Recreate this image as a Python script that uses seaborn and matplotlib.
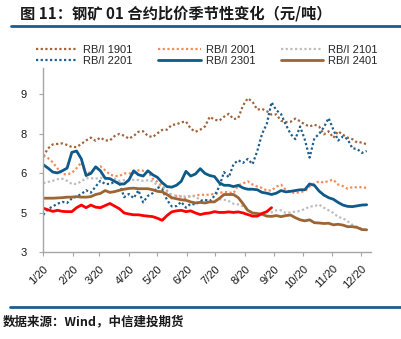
import numpy as np
import pandas as pd
import matplotlib
matplotlib.use("Agg")
import matplotlib.pyplot as plt
from matplotlib.lines import Line2D
import seaborn as sns

# ---------------- data (sampled every 5 days from 1/20) ----------------
start_date = "2023-01-20"
step_days = 5

rbi_1901 = [6.65, 6.95, 7.10, 7.12, 7.14, 7.08, 7.00, 7.00, 7.12, 7.25,
            7.36, 7.24, 7.36, 7.25, 7.25, 7.42, 7.50, 7.43, 7.32, 7.42,
            7.58, 7.60, 7.42, 7.38, 7.52, 7.65, 7.66, 7.84, 7.86, 7.94,
            7.97, 7.70, 7.58, 7.66, 7.78, 8.15, 8.04, 8.00, 8.15, 8.26,
            8.06, 8.10, 8.58, 8.85, 8.72, 8.42, 8.45, 8.36, 8.23, 8.24,
            8.00, 7.95, 7.96, 8.08, 7.98, 7.86, 7.78, 7.85, 7.78, 7.48,
            7.60, 7.35, 7.60, 7.47, 7.36, 7.30, 7.17, 7.18, 7.10]

rbi_2001 = [6.67, 6.58, 6.42, 6.18, 5.98, 5.96, 6.02, 6.20, 6.42, 5.98,
            6.05, 6.20, 6.27, 6.12, 5.96, 5.90, 5.90, 6.00, 6.00, 6.00,
            6.12, 6.10, 6.08, 5.80, 5.68, 5.52, 5.35, 5.05, 5.15, 5.12,
            5.06, 5.15, 5.15, 5.20, 5.18, 5.20, 5.22, 5.25, 5.30, 5.28,
            5.25, 5.55, 5.62, 5.70, 5.58, 5.50, 5.45, 5.35, 5.35, 5.50,
            5.57, 5.38, 5.30, 5.25, 5.30, 5.32, 5.50, 5.62, 5.70, 5.65,
            5.72, 5.76, 5.58, 5.52, 5.42, 5.48, 5.47, 5.48, 5.45]

rbi_2101 = [5.63, 5.68, 5.72, 5.78, 5.80, 5.72, 5.60, 5.60, 5.70, 5.82,
            5.82, 5.80, 5.84, 5.78, 5.80, 5.80, 5.72, 5.75, 5.74, 5.76,
            5.75, 5.72, 5.74, 5.70, 5.55, 5.45, 5.30, 5.20, 5.15, 5.14,
            5.12, 5.15, 5.12, 5.00, 4.95, 4.93, 4.95, 5.02, 5.00, 4.95,
            4.85, 4.82, 4.75, 4.60, 4.50, 4.45, 4.45, 4.55, 4.52, 4.60,
            4.60, 4.50, 4.52, 4.55, 4.58, 4.65, 4.74, 4.76, 4.82, 4.70,
            4.60, 4.50, 4.35, 4.30, 4.18, 4.05, 3.97, 3.90, 3.85]

rbi_2201 = [4.43, 4.65, 4.75, 4.85, 4.92, 4.88, 5.05, 5.12, 5.22, 5.36,
            5.27, 5.50, 5.72, 5.60, 5.60, 5.68, 5.65, 5.10, 5.22, 5.06,
            5.36, 4.90, 5.15, 5.25, 5.48, 5.40, 5.00, 4.75, 4.76, 4.92,
            4.70, 4.85, 4.82, 4.95, 5.00, 4.95, 5.15, 5.50, 6.05, 5.85,
            6.35, 6.50, 6.40, 6.55, 6.35, 6.85, 7.50, 7.88, 8.70, 8.40,
            8.25, 7.85, 7.50, 7.30, 7.78, 7.28, 6.60, 7.33, 7.50, 7.75,
            8.10, 7.66, 7.25, 7.40, 7.30, 6.95, 6.93, 6.78, 6.85]

rbi_2301 = [6.33, 6.20, 6.05, 6.02, 6.10, 6.20, 6.80, 6.85, 6.55, 5.92,
            6.00, 6.25, 6.10, 5.82, 5.80, 5.70, 5.60, 5.60, 5.75, 6.10,
            5.95, 5.90, 6.10, 5.95, 5.85, 5.65, 5.50, 5.48, 5.55, 5.70,
            6.08, 5.90, 5.98, 6.18, 6.00, 5.92, 5.88, 5.65, 5.55, 5.55,
            5.50, 5.55, 5.45, 5.40, 5.40, 5.38, 5.28, 5.25, 5.20, 5.25,
            5.35, 5.30, 5.32, 5.35, 5.38, 5.38, 5.60, 5.55, 5.33, 5.18,
            5.08, 5.02, 4.90, 4.80, 4.75, 4.74, 4.77, 4.80, 4.81]

rbi_2401 = [5.06, 5.06, 5.06, 5.07, 5.08, 5.10, 5.10, 5.12, 5.10, 5.10,
            5.12, 5.20, 5.24, 5.35, 5.28, 5.31, 5.36, 5.40, 5.43, 5.44,
            5.42, 5.42, 5.42, 5.38, 5.32, 5.30, 5.20, 5.08, 5.04, 5.00,
            4.98, 4.92, 4.88, 4.90, 4.88, 4.92, 4.92, 5.05, 5.20, 5.20,
            5.20, 5.08, 4.85, 4.60, 4.50, 4.48, 4.45, 4.38, 4.37, 4.40,
            4.36, 4.40, 4.42, 4.32, 4.24, 4.20, 4.24, 4.13, 4.12, 4.10,
            4.11, 4.05, 4.07, 4.04, 3.98, 3.98, 3.95, 3.87, 3.86]

rbi_2501 = [4.68, 4.62, 4.56, 4.60, 4.56, 4.55, 4.55, 4.70, 4.80, 4.70,
            4.80, 4.72, 4.70, 4.78, 4.86, 4.76, 4.66, 4.50, 4.46, 4.43,
            4.43, 4.40, 4.38, 4.36, 4.30, 4.22, 4.40, 4.54, 4.58, 4.60,
            4.55, 4.58, 4.50, 4.44, 4.48, 4.50, 4.55, 4.52, 4.52, 4.54,
            4.52, 4.54, 4.50, 4.44, 4.38, 4.38, 4.48, 4.55, 4.70]

series_names = ["RB/I 1901", "RB/I 2001", "RB/I 2101",
                "RB/I 2201", "RB/I 2301", "RB/I 2401", None]
series_values = [rbi_1901, rbi_2001, rbi_2101, rbi_2201, rbi_2301, rbi_2401, rbi_2501]

ytick_values = [3, 4.5, 6, 7.5, 9]
ytick_labels = ["3", "5", "6", "8", "9"]
xtick_labels = [f"{m}/20" for m in range(1, 13)]

title_text = "图 11：钢矿 01 合约比价季节性变化（元/吨）"
source_text = "数据来源：Wind，中信建投期货"

# ---------------- styles ----------------
colors = ["#A3643A", "#F58A5C", "#BDBDBD", "#1F5F8E", "#0E5A8A", "#9E6533", "#FF0000"]
dotted = (0, (1, 1.1))
styles = [dotted, dotted, dotted, dotted, "-", "-", "-"]
widths = [1.6, 1.6, 1.6, 1.6, 2.0, 2.0, 2.0]

sns.set_theme(style="white")
plt.rcParams["font.family"] = ["Liberation Sans", "Noto Sans CJK SC", "DejaVu Sans"]

fig = plt.figure(figsize=(4.01, 3.39), dpi=100)
ax = fig.add_axes([0.108, 0.2552, 0.925 - 0.108, 0.7994 - 0.2552])

t0 = pd.Timestamp(start_date)
for name, vals, c, ls, lw in zip(series_names, series_values, colors, styles, widths):
    dates = t0 + pd.to_timedelta(np.arange(len(vals)) * step_days, unit="D")
    sns.lineplot(x=dates, y=vals, ax=ax, color=c, linestyle=ls, linewidth=lw,
                 label=name if name else "_nolegend_", legend=False)

ax.set_ylim(3, 10)
ax.set_yticks(ytick_values)
ax.set_yticklabels(ytick_labels)

xticks = [pd.Timestamp(f"2023-{m:02d}-20") for m in range(1, 13)]
ax.set_xticks(xticks)
ax.set_xticklabels(xtick_labels, rotation=45, ha="right", va="top",
                   rotation_mode="anchor")
ax.set_xlim(pd.Timestamp("2023-01-20"), pd.Timestamp("2023-12-30 12:00"))
ax.set_xlabel("")
ax.set_ylabel("")

for s in ["top", "right"]:
    ax.spines[s].set_visible(False)
for s in ["left", "bottom"]:
    ax.spines[s].set_color("#A6A6A6")
    ax.spines[s].set_linewidth(1.0)
ax.tick_params(axis="x", which="major", direction="out", length=3, width=0.8,
               color="#A6A6A6", labelsize=8, pad=5, bottom=True)
ax.tick_params(axis="y", which="major", direction="out", length=3, width=0.8,
               color="#A6A6A6", labelsize=8, pad=9, left=True)
for lab in ax.get_xticklabels() + ax.get_yticklabels():
    lab.set_color("#1A1A1A")

# legend: row 1 = 1901, 2001, 2101 ; row 2 = 2201, 2301, 2401 (column-major fill)
handles, labels = ax.get_legend_handles_labels()
order = [0, 3, 1, 4, 2, 5]
fig.legend([handles[i] for i in order], [labels[i] for i in order], ncol=3,
           loc="upper left", bbox_to_anchor=(36 / 401, 1 - 45 / 339), frameon=False,
           fontsize=8, handlelength=3.8, handletextpad=0.45,
           columnspacing=2.3, labelspacing=0.05, borderpad=0, borderaxespad=0)

# title and decorative rules
fig.text(20 / 401, 1 - 13.5 / 339, title_text, fontsize=11, fontweight="bold",
         family=["Noto Sans CJK SC", "DejaVu Sans"], color="#1A1A1A",
         ha="left", va="center")
fig.add_artist(Line2D([11 / 401, 1.0], [1 - 25.5 / 339, 1 - 25.5 / 339],
                      color="#1F5C8B", linewidth=2.0, transform=fig.transFigure))
fig.add_artist(Line2D([10 / 401, 1.0], [1 - 307 / 339, 1 - 307 / 339],
                      color="#1F5C8B", linewidth=2.0, transform=fig.transFigure))
fig.text(3 / 401, 1 - 322 / 339, source_text, fontsize=9, fontweight="bold",
         style="italic", family=["Noto Sans CJK SC", "DejaVu Sans"],
         color="#1A1A1A", ha="left", va="center")

fig.savefig("out.png", dpi=100)
